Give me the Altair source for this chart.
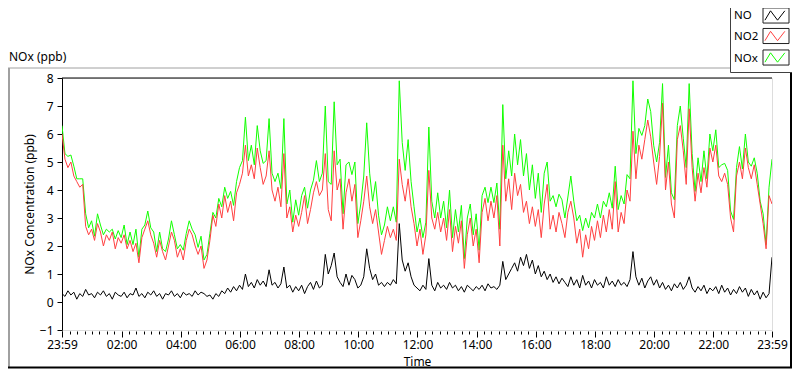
import altair as alt
import pandas as pd

# ---------------- data (one value every 6 minutes, starting 23:59) ----------------
STEP_MIN = 6

no2 = [
    6.0, 5.1, 4.8, 5.0, 4.5, 4.3, 4.1, 4.2, 2.7, 2.4,
    2.6, 2.2, 2.8, 2.5, 2.0, 2.4, 2.2, 2.5, 1.9, 2.3,
    2.1, 2.4, 1.9, 2.2, 1.8, 2.1, 1.4, 2.3, 2.6, 2.9,
    2.4, 2.1, 1.6, 2.2, 1.8, 1.5, 2.0, 2.5, 2.2, 1.6,
    1.9, 1.5, 2.2, 2.6, 2.4, 2.0, 1.7, 2.0, 1.2, 1.5,
    2.2, 3.1, 2.7, 3.5, 3.0, 3.8, 3.2, 3.6, 2.9, 3.9,
    4.2, 4.6, 5.6, 4.5, 4.9, 4.4, 5.5, 4.8, 4.2, 4.5,
    5.4, 4.0, 3.6, 4.1, 3.4, 5.3, 3.0, 3.4, 2.5, 3.1,
    2.7, 3.2, 3.8, 2.8, 3.3, 3.9, 4.3, 3.8, 4.0, 5.3,
    3.3, 2.9, 5.4, 4.0, 4.4, 2.6, 3.9, 4.4, 3.6, 4.2,
    2.3, 2.9, 3.6, 4.5, 3.4, 2.8, 3.3, 2.5, 1.7, 2.2,
    2.7, 2.3, 2.6, 2.2, 5.1, 4.2, 3.6, 4.4, 3.4, 2.8,
    2.0, 2.6, 1.7, 2.4, 4.7, 3.0, 2.6, 3.2, 2.5, 3.0,
    2.2, 3.3, 1.8, 2.7, 2.1, 2.9, 1.2, 2.4, 3.0, 2.0,
    2.6, 1.4, 3.2, 3.7, 2.9, 3.6, 3.0, 3.8, 2.0, 5.6,
    3.6, 4.4, 3.3, 4.6, 3.8, 4.2, 3.2, 3.6, 2.8, 3.4,
    2.7, 3.3, 2.3, 3.5, 4.2, 2.6, 3.1, 2.5, 3.2, 2.8,
    2.3, 3.2, 3.6, 3.0, 2.1, 2.6, 1.6, 2.4, 1.9, 2.7,
    2.2, 2.9, 2.3, 3.1, 2.5, 3.3, 2.6, 4.3, 2.5, 3.2,
    2.8, 4.0, 3.6, 6.1, 4.4, 5.6, 5.1, 5.8, 6.5, 5.9,
    5.0, 4.2, 5.2, 7.1, 4.0, 5.0, 3.5, 3.0, 5.8, 6.3,
    5.4, 4.2, 6.9, 4.8, 3.6, 4.6, 3.9, 4.8, 4.1, 5.5,
    5.0, 5.6, 4.5, 4.3, 4.6, 4.2, 3.0, 2.5, 4.5, 5.0,
    4.4, 5.5, 4.8, 4.4, 4.9, 4.2, 3.5, 2.8, 1.9, 3.8,
    3.5,
]

no = [
    0.3, 0.2, 0.4, 0.25, 0.35, 0.1, 0.3, 0.2, 0.45, 0.25,
    0.3, 0.15, 0.35, 0.25, 0.4, 0.2, 0.3, 0.1, 0.35, 0.25,
    0.2, 0.35, 0.15, 0.3, 0.25, 0.5, 0.2, 0.3, 0.15, 0.35,
    0.25, 0.4, 0.2, 0.3, 0.1, 0.3, 0.25, 0.4, 0.2, 0.3,
    0.15, 0.35, 0.25, 0.3, 0.2, 0.4, 0.25, 0.35, 0.3, 0.2,
    0.25, 0.1, 0.3, 0.2, 0.4, 0.3, 0.5, 0.35, 0.55, 0.4,
    0.6, 0.45, 1.0, 0.55, 0.7, 0.5, 0.8, 0.6, 0.75, 0.55,
    1.15, 0.6, 0.7, 0.5, 0.65, 1.25, 0.5, 0.6, 0.35, 0.55,
    0.4, 0.6, 0.3, 0.55, 0.7, 0.45, 0.75, 0.5, 0.6, 1.7,
    1.0, 1.3, 1.75, 0.9, 0.7, 0.55, 1.0, 0.6, 0.95, 0.8,
    0.5, 0.6, 0.9, 1.9, 1.2, 0.8, 1.0, 0.6, 0.7, 0.55,
    0.7, 0.6, 0.8, 0.65, 2.8, 1.5, 1.1, 1.4, 0.9, 0.6,
    0.5, 0.4, 0.6, 0.45, 1.55, 0.6, 0.4, 0.7, 0.5, 0.6,
    0.45, 0.7, 0.5, 0.6, 0.4, 0.55, 0.35, 0.6, 0.5, 0.4,
    0.55, 0.45, 0.6, 0.4, 0.65, 0.5, 0.55, 0.45, 0.6, 1.45,
    0.8, 1.0, 1.2, 1.4, 1.1, 1.6, 1.3, 1.7, 1.2, 1.5,
    1.0, 1.3, 0.9, 1.1, 0.8, 1.0, 0.7, 0.9, 0.65, 0.85,
    0.7, 0.55, 0.9, 0.6, 0.8, 0.5, 0.95, 0.6, 0.75, 0.5,
    0.8, 0.6, 0.7, 0.5, 0.9, 0.6, 0.75, 0.55, 0.8, 0.6,
    0.7, 0.55, 0.8, 1.8, 0.9, 0.6, 0.85, 0.5, 0.75, 0.9,
    0.6, 0.8, 0.5, 0.7, 0.45, 0.6, 0.4, 0.65, 0.5, 0.7,
    0.45, 0.6, 0.9, 0.5, 0.35, 0.55, 0.4, 0.6, 0.3, 0.5,
    0.4, 0.55, 0.3, 0.6, 0.35, 0.5, 0.25, 0.45, 0.3, 0.55,
    0.35, 0.5, 0.2, 0.45, 0.25, 0.4, 0.1, 0.35, 0.15, 0.3,
    1.6,
]

nox = [
    6.3, 5.3, 5.2, 5.25, 4.85, 4.4, 4.4, 4.4, 3.15, 2.65,
    2.9, 2.35, 3.15, 2.75, 2.4, 2.6, 2.5, 2.6, 2.25, 2.55,
    2.3, 2.75, 2.05, 2.5, 2.05, 2.6, 1.6, 2.6, 2.75, 3.25,
    2.65, 2.5, 1.8, 2.5, 1.9, 1.8, 2.25, 2.9, 2.4, 1.9,
    2.05, 1.85, 2.45, 2.9, 2.6, 2.4, 1.95, 2.35, 1.5, 1.7,
    2.45, 3.2, 3.0, 3.7, 3.4, 4.1, 3.7, 3.95, 3.45, 4.3,
    4.8, 5.05, 6.6, 5.05, 5.6, 4.9, 6.3, 5.4, 4.95, 5.05,
    6.55, 4.6, 4.3, 4.6, 4.05, 6.55, 3.5, 4.0, 2.85, 3.65,
    3.1, 3.8, 4.1, 3.35, 4.0, 4.35, 5.05, 4.3, 4.6, 7.0,
    4.3, 4.2, 7.15, 4.9, 5.1, 3.15, 4.9, 5.0, 4.55, 5.0,
    2.8, 3.5, 4.5, 6.4, 4.6, 3.6, 4.3, 3.1, 2.4, 2.75,
    3.4, 2.9, 3.4, 2.85, 7.9, 5.7, 4.7, 5.8, 4.3, 3.4,
    2.5, 3.0, 2.3, 2.85, 6.25, 3.6, 3.0, 3.9, 3.0, 3.6,
    2.65, 4.0, 2.3, 3.3, 2.5, 3.45, 1.55, 3.0, 3.5, 2.4,
    3.15, 1.85, 3.8, 4.1, 3.55, 4.1, 3.55, 4.25, 2.6, 7.05,
    4.4, 5.4, 4.5, 6.0, 4.9, 5.8, 4.5, 5.3, 4.0, 4.9,
    3.7, 4.6, 3.2, 4.6, 5.0, 3.6, 3.8, 3.4, 3.85, 3.65,
    3.0, 3.75, 4.5, 3.6, 2.9, 3.1, 2.55, 3.0, 2.65, 3.2,
    3.0, 3.5, 3.0, 3.6, 3.4, 3.9, 3.35, 4.85, 3.3, 3.8,
    3.5, 4.55, 4.4, 7.9, 5.3, 6.2, 5.95, 6.3, 7.25, 6.8,
    5.6, 5.0, 5.7, 7.8, 4.45, 5.6, 3.9, 3.65, 6.3, 7.0,
    5.85, 4.8, 7.8, 5.3, 3.95, 5.15, 4.3, 5.4, 4.4, 6.0,
    5.4, 6.15, 4.8, 4.9, 4.95, 4.7, 3.25, 2.95, 4.8, 5.55,
    4.75, 6.0, 5.0, 4.85, 5.15, 4.6, 3.6, 3.15, 2.05, 4.1,
    5.1,
]

# x axis: minutes after 23:59
major_ticks = [0, 121, 241, 361, 481, 601, 721, 841, 961, 1081, 1201, 1321, 1440]
major_labels = ["23:59", "02:00", "04:00", "06:00", "08:00", "10:00", "12:00",
                "14:00", "16:00", "18:00", "20:00", "22:00", "23:59"]
y_ticks = [-1, 0, 1, 2, 3, 4, 5, 6, 7, 8]
series_names = ["NO", "NO2", "NOx"]
series_colors = ["#000000", "#ff4040", "#11ff00"]

minutes = [i * STEP_MIN for i in range(len(no2))]
df = pd.DataFrame({"t": minutes, "NO": no, "NO2": no2, "NOx": nox})
one = pd.DataFrame({"k": [0]})

# ---------------- styling ----------------
FONT = "Segoe UI, Noto Sans, Open Sans, sans-serif"
W, H = 710, 252
minor_ticks = [1 + 15 * k for k in range(96)]
all_ticks = sorted(set(major_ticks + minor_ticks))

label_expr = "".join(
    f"datum.value == {v} ? '{lab}' : " for v, lab in zip(major_ticks, major_labels)
) + "''"
major_test = " || ".join(f"datum.value == {v}" for v in major_ticks)

x_axis = alt.Axis(
    values=all_ticks,
    labelExpr=label_expr,
    labelOverlap=False,
    labelFlush=False,
    grid=False,
    domain=False,
    offset=1,
    tickColor="#000000",
    tickSize={"condition": {"test": major_test, "value": 6}, "value": 3},
    labelPadding=2,
    labelFont=FONT,
    labelFontSize=12,
    labelColor="#000000",
    title="Time",
    titleFont=FONT,
    titleFontSize=12,
    titleFontWeight="normal",
    titleColor="#000000",
    titlePadding=6,
)
y_axis = alt.Axis(
    values=y_ticks,
    grid=False,
    domainColor="#000000",
    domainWidth=1,
    tickColor="#000000",
    tickSize=5,
    labelPadding=4,
    labelFont=FONT,
    labelFontSize=12,
    labelColor="#000000",
    title="NOx Concentration (ppb)",
    titleFont=FONT,
    titleFontSize=12,
    titleFontWeight="normal",
    titleColor="#000000",
    titlePadding=3,
)
x_scale = alt.Scale(domain=[0, 1440], nice=False, zero=False)
y_scale = alt.Scale(domain=[-1, 8], nice=False, zero=False)


def series(col, color):
    return alt.Chart(df).mark_line(color=color, strokeWidth=1, clip=True).encode(
        x=alt.X("t:Q", scale=x_scale, axis=x_axis),
        y=alt.Y(f"{col}:Q", scale=y_scale, axis=y_axis),
    )


def hrule(x0, x1, y, color, w=1):
    return alt.Chart(one).mark_rule(color=color, strokeWidth=w).encode(
        x=alt.value(x0), x2=alt.value(x1), y=alt.value(y))


def vrule(x, y0, y1, color, w=1):
    return alt.Chart(one).mark_rule(color=color, strokeWidth=w).encode(
        x=alt.value(x), y=alt.value(y0), y2=alt.value(y1))


def label(txt, x, y, size=12, align="left"):
    return alt.Chart(one).mark_text(
        text=txt, align=align, baseline="middle", font=FONT, fontSize=size, color="#000000"
    ).encode(x=alt.value(x), y=alt.value(y))


BOX = "M-1,-0.58H1V0.58H-1Z"
ZIG = "M-0.85,0.36L-0.42,-0.36L0.12,0.36L0.68,-0.36"


def symbol(path, x, y, color):
    return alt.Chart(one).mark_point(
        shape=path, size=676, filled=False, stroke=color, strokeWidth=1, opacity=1
    ).encode(x=alt.value(x), y=alt.value(y))


layers = [
    series("NOx", series_colors[2]),
    series("NO2", series_colors[1]),
    series("NO", series_colors[0]),
    hrule(0, W, 0, "#000000"),
    # outer panel frame
    hrule(-54, 668, -10, "#a0a0a0"),
    vrule(-53, -10, 290, "#a0a0a0", 2),
    hrule(-54, 730, 289.5, "#000000", 2),
    vrule(729, -6, 290, "#000000", 2),
    label("NOx (ppb)", -53, -21),
    # legend box
    alt.Chart(one).mark_rect(fill="#ffffff", stroke="#404040", strokeWidth=1).encode(
        x=alt.value(668.5), x2=alt.value(740), y=alt.value(-90), y2=alt.value(-5.5)),
]
legend_y = [-62.5, -41.5, -19.5]
box_y = [-62.5, -42, -20.5]
for name, color, ty, by in zip(series_names, series_colors, legend_y, box_y):
    layers.append(label(name, 672, ty, size=11.5))
    layers.append(symbol(BOX, 714, by, "#202020"))
    layers.append(symbol(ZIG, 714, by, color))

chart = alt.layer(*layers).properties(
    width=W,
    height=H,
    autosize=alt.AutoSizeParams(type="none"),
    padding={"left": 54, "top": 70, "right": 20, "bottom": 39},
).configure_view(stroke="#a0a0a0", strokeWidth=1).configure(background="#ffffff")

chart.save("out.html", embed_options={"renderer": "svg", "actions": False})
